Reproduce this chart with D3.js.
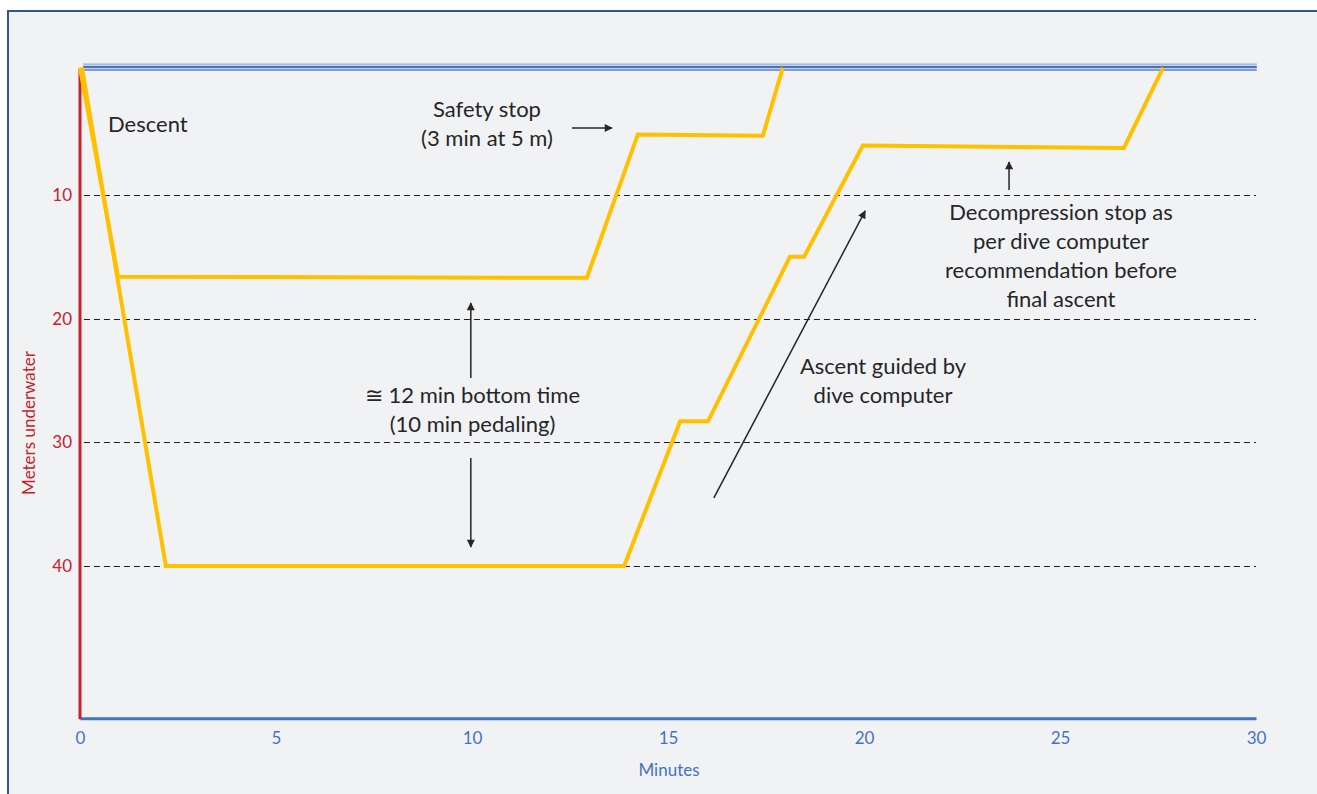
<!DOCTYPE html>
<html>
<head>
<meta charset="utf-8">
<script src="https://cdn.jsdelivr.net/npm/d3@7/dist/d3.min.js"></script>
<style>
  html, body { margin: 0; padding: 0; background: #ffffff; }
  svg { display: block; }
  text { font-family: Lato, "Open Sans", "Noto Sans", sans-serif; }
</style>
</head>
<body>
<svg id="chart" width="1317" height="794"></svg>
<script>
// ---- data ----
const xTicks = [0, 5, 10, 15, 20, 25, 30];
const yTicks = [10, 20, 30, 40];
const gridDepths = [10, 20, 30, 40];
// shallow dive profile: [minutes, meters]
const shallowTime  = [0, 0.97, 12.93, 14.23, 17.42, 17.93];
const shallowDepth = [-0.3, 16.6, 16.7, 5.1, 5.2, -0.3];
// deep dive profile: [minutes, meters]
const deepTime  = [0.05, 2.19, 13.88, 15.31, 16.02, 18.11, 18.47, 19.97, 26.63, 27.63];
const deepDepth = [-0.3, 40.0, 40.0, 28.3, 28.3, 15.0, 15.0, 6.0, 6.2, -0.3];
const surfaceDepth = -0.3;

const xTitle = "Minutes";
const yTitle = "Meters underwater";

// ---- scales ----
const svg = d3.select("#chart");
const x = d3.scaleLinear().domain([0, 30]).range([80, 1256]);
const y = d3.scaleLinear().domain([-0.3, 52.3]).range([67.6, 718.2]);

// background / frame
svg.append("rect").attr("x", 8).attr("y", 11).attr("width", 1320).attr("height", 800)
  .attr("fill", "#f1f2f4").attr("stroke", "#2f5597").attr("stroke-width", 2);

// gridlines
svg.append("g").selectAll("line").data(gridDepths).join("line")
  .attr("x1", x(0.1)).attr("x2", x(30))
  .attr("y1", d => Math.round(y(d)) + 0.5).attr("y2", d => Math.round(y(d)) + 0.5)
  .attr("stroke", "#1e1e1e").attr("stroke-width", 1.2).attr("stroke-dasharray", "6,4");

// surface lines
const sy = y(surfaceDepth);
[[-3.5, "#8faadc", 1.2], [-0.6, "#4472c4", 2.4], [2.4, "#5b7fc9", 1.5]].forEach(([off, c, w]) => {
  svg.append("line").attr("x1", x(0.08)).attr("x2", x(30.02))
    .attr("y1", sy + off).attr("y2", sy + off)
    .attr("stroke", c).attr("stroke-width", w);
});

// x axis
const xAxis = d3.axisBottom(x).tickValues(xTicks).tickSize(0).tickPadding(14).tickFormat(d3.format("d"));
const gx = svg.append("g").attr("transform", `translate(0,${y(52.3)})`).call(xAxis);
gx.select(".domain").attr("stroke", "#4472c4").attr("stroke-width", 3);
gx.selectAll("text").attr("fill", "#4472c4").style("font-size", "17px")
  .style("font-family", "Lato, sans-serif");

// y axis
const yAxis = d3.axisLeft(y).tickValues(yTicks).tickSize(0).tickPadding(8).tickFormat(d3.format("d"));
const gy = svg.append("g").attr("transform", `translate(${x(0)},0)`).call(yAxis);
gy.select(".domain").attr("stroke", "#c5222d").attr("stroke-width", 3)
  .attr("d", `M0,${y(-0.2)}V${y(52.3) + 1}`);
gy.selectAll("text").attr("fill", "#c5222d").style("font-size", "17px")
  .style("font-family", "Lato, sans-serif");

// axis titles
svg.append("text").attr("x", 669).attr("y", 776).attr("text-anchor", "middle")
  .attr("fill", "#4472c4").style("font-size", "17px").text(xTitle);
svg.append("text").attr("transform", "translate(35,423) rotate(-90)").attr("text-anchor", "middle")
  .attr("fill", "#c5222d").style("font-size", "17px").text(yTitle);

// profiles
const line = d3.line().x(d => x(d[0])).y(d => y(d[1]));
const shallow = shallowTime.map((t, i) => [t, shallowDepth[i]]);
const deep = deepTime.map((t, i) => [t, deepDepth[i]]);
[shallow, deep].forEach(p => {
  svg.append("path").attr("d", line(p)).attr("fill", "none")
    .attr("stroke", "#ffc000").attr("stroke-width", 4).attr("stroke-linejoin", "miter");
});

// arrow marker
const defs = svg.append("defs");
defs.append("marker").attr("id", "ah").attr("viewBox", "0 0 10 10")
  .attr("refX", 9).attr("refY", 5).attr("markerWidth", 10).attr("markerHeight", 8)
  .attr("markerUnits", "userSpaceOnUse").attr("orient", "auto")
  .append("path").attr("d", "M0,0L10,5L0,10Z").attr("fill", "#262626");

function arrow(t1, d1, t2, d2) {
  svg.append("line").attr("x1", x(t1)).attr("y1", y(d1)).attr("x2", x(t2)).attr("y2", y(d2))
    .attr("stroke", "#262626").attr("stroke-width", 1.5).attr("marker-end", "url(#ah)");
}
arrow(12.55, 4.58, 13.57, 4.58);
arrow(9.97, 24.8, 9.97, 18.73);
arrow(9.97, 31.26, 9.97, 38.45);
arrow(23.7, 9.6, 23.7, 7.33);
arrow(16.17, 34.49, 20.03, 11.29);

// annotations
function label(lines, cx, baseline, anchor) {
  const t = svg.append("text").attr("fill", "#262626").style("font-size", "22px")
    .attr("text-anchor", anchor || "middle");
  lines.forEach((s, i) => {
    t.append("tspan").attr("x", cx).attr("y", baseline + i * 29).text(s);
  });
}
label(["Descent"], 108, 132, "start");
label(["Safety stop", "(3 min at 5 m)"], 487, 117);
label(["\u2245 12 min bottom time", "(10 min pedaling)"], 472.5, 403);
label(["Decompression stop as", "per dive computer", "recommendation before", "final ascent"], 1061, 220);
label(["Ascent guided by", "dive computer"], 883, 374);
</script>
</body>
</html>
